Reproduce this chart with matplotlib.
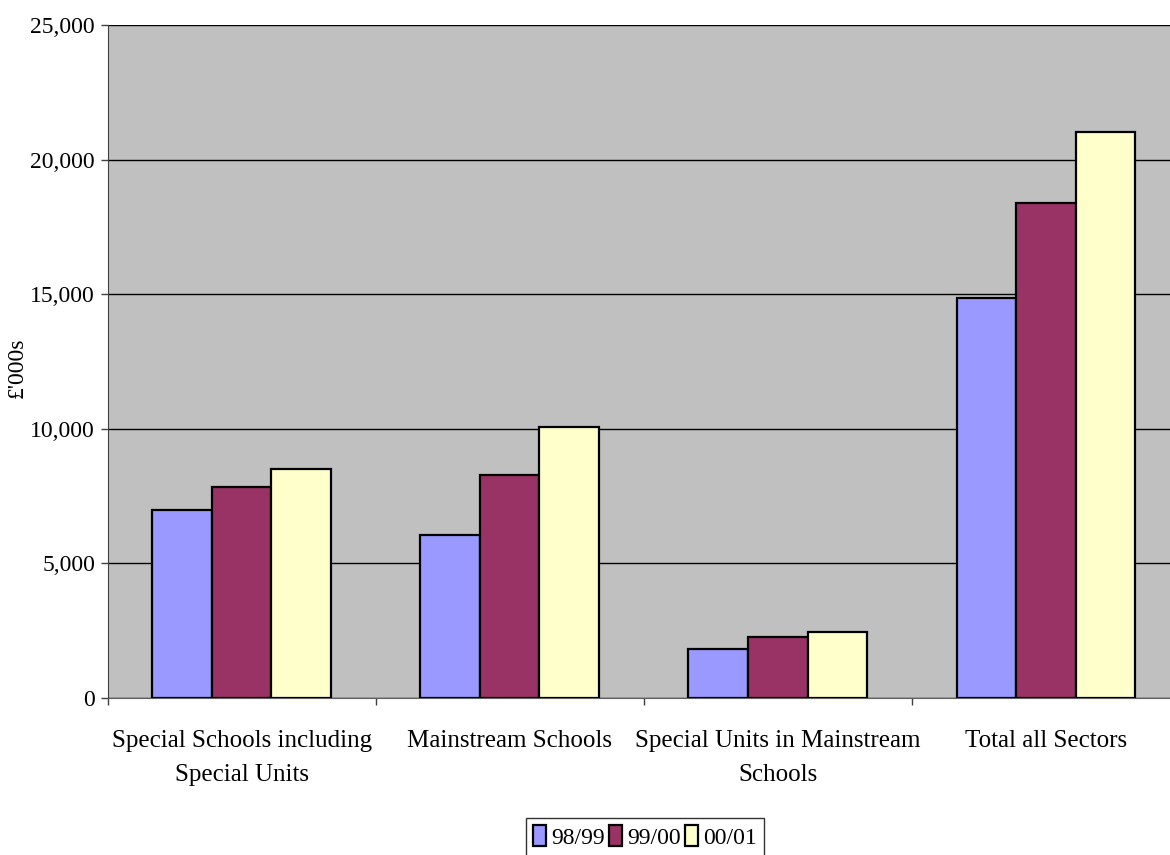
import matplotlib
matplotlib.use("Agg")
import matplotlib.pyplot as plt
import numpy as np

# Spending by sector, £'000s
categories = ["Special Schools including\nSpecial Units", "Mainstream Schools",
              "Special Units in Mainstream\nSchools", "Total all Sectors"]
years = ["98/99", "99/00", "00/01"]
spend_9899 = [7000, 6040, 1830, 14870]
spend_9900 = [7840, 8270, 2250, 18380]
spend_0001 = [8510, 10080, 2440, 21030]
series = [spend_9899, spend_9900, spend_0001]
colors = ["#9999FF", "#993366", "#FFFFCC"]
yticks = [0, 5000, 10000, 15000, 20000, 25000]

plt.rcParams["font.family"] = ["Liberation Serif", "DejaVu Serif"]
fs = 18

fig = plt.figure(figsize=(11.7, 8.55), dpi=100)
ax = fig.add_axes([107.5 / 1170, 1 - 698 / 855, (1180 - 107.5) / 1170, (698 - 25) / 855])
ax.set_facecolor("#C0C0C0")

x = np.arange(len(categories))
w = 1 / 4.5
for i, (vals, col, lab) in enumerate(zip(series, colors, years)):
    ax.bar(x + (i - 1) * w, vals, width=w, color=col, edgecolor="black",
           linewidth=1.6, label=lab, zorder=3)

ax.set_xlim(-0.5, len(categories) - 0.5)
ax.set_ylim(0, 25000)
ax.set_yticks(yticks)
ax.set_yticklabels([f"{v:,}" for v in yticks], fontsize=fs - 1)
ax.yaxis.grid(True, color="black", linewidth=1.0, zorder=1)
ax.set_axisbelow(True)

ax.set_xticks(x)
ax.set_xticklabels(categories, fontsize=fs, linespacing=1.7)
ax.tick_params(axis="x", which="major", length=0, pad=23)
ax.set_xticks(np.arange(-0.5, len(categories), 1.0), minor=True)
ax.tick_params(axis="x", which="minor", length=5, width=1, color="#404040")
ax.tick_params(axis="y", length=5, width=1, color="#404040", pad=4)

for side in ("top", "right"):
    ax.spines[side].set_visible(False)
ax.spines["left"].set_color("#404040")
ax.spines["bottom"].set_color("#606060")

ax.set_ylabel("£'000s", fontsize=fs - 1)
ax.yaxis.set_label_coords(-0.074, 0.49)

leg = ax.legend(loc="upper center", bbox_to_anchor=(645 / 1170, 1 - 818 / 855),
                bbox_transform=fig.transFigure, ncol=3, fontsize=fs - 1,
                frameon=True, fancybox=False, edgecolor="black",
                handlelength=0.55, handleheight=1.0, handletextpad=0.2,
                columnspacing=0.2, borderpad=0.3, borderaxespad=0)
leg.get_frame().set_linewidth(1.0)

fig.savefig("out.png", dpi=100)
